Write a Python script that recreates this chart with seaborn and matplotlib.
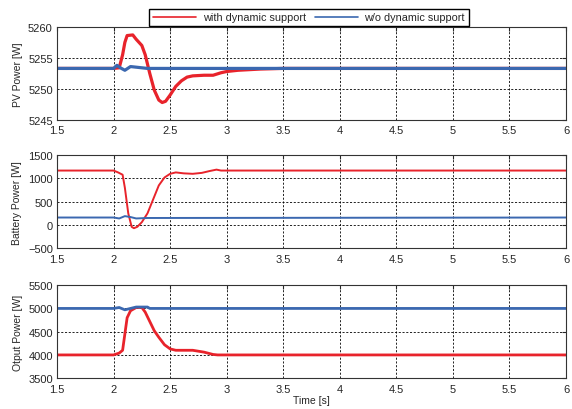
import pandas as pd
import matplotlib
matplotlib.use("Agg")
import matplotlib.pyplot as plt
import seaborn as sns

# PV power [W]
pv_t_dyn = [1.5, 2.0, 2.05, 2.08, 2.1, 2.12, 2.17, 2.2, 2.25, 2.28, 2.32, 2.36, 2.4, 2.43, 2.46, 2.5,
            2.55, 2.6, 2.65, 2.7, 2.8, 2.88, 2.95, 3.0, 3.1, 3.3, 3.5, 6.0]
pv_v_dyn = [5253.3, 5253.3, 5253.4, 5255.5, 5257.5, 5258.6, 5258.7, 5258.0, 5257.0, 5255.5, 5252.5,
            5249.8, 5248.2, 5247.8, 5248.0, 5249.0, 5250.4, 5251.3, 5251.9, 5252.1, 5252.2, 5252.2,
            5252.6, 5252.8, 5253.0, 5253.2, 5253.3, 5253.3]
pv_t_wo = [1.5, 2.0, 2.03, 2.06, 2.1, 2.15, 2.2, 2.3, 6.0]
pv_v_wo = [5253.3, 5253.3, 5253.8, 5253.4, 5253.0, 5253.6, 5253.5, 5253.3, 5253.3]

# Battery power [W]
bat_t_dyn = [1.5, 2.0, 2.04, 2.08, 2.1, 2.13, 2.16, 2.18, 2.21, 2.25, 2.3, 2.35, 2.4, 2.45, 2.5,
             2.55, 2.62, 2.7, 2.78, 2.85, 2.91, 2.95, 6.0]
bat_v_dyn = [1170, 1170, 1130, 1080, 800, 250, -40, -70, -40, 60, 250, 550, 850, 1020, 1100,
             1130, 1110, 1100, 1120, 1160, 1190, 1170, 1170]
bat_t_wo = [1.5, 2.0, 2.05, 2.1, 2.15, 2.2, 2.3, 6.0]
bat_v_wo = [160, 160, 140, 190, 170, 140, 150, 160]

# Output power [W]
out_t_dyn = [1.5, 2.0, 2.05, 2.08, 2.1, 2.12, 2.15, 2.2, 2.25, 2.28, 2.32, 2.36, 2.4, 2.45, 2.5,
             2.55, 2.6, 2.7, 2.8, 2.88, 2.92, 6.0]
out_v_dyn = [4000, 4000, 4040, 4100, 4450, 4800, 4950, 5020, 5020, 4920, 4720, 4520, 4380, 4220,
             4130, 4100, 4100, 4100, 4060, 4010, 4000, 4000]
out_t_wo = [1.5, 2.0, 2.05, 2.1, 2.15, 2.2, 2.3, 2.32, 6.0]
out_v_wo = [5000, 5000, 5020, 4970, 5000, 5030, 5030, 5000, 5000]

labels = ["with dynamic support", "w/o dynamic support"]
RED = "#e8232b"
BLUE = "#3b68b0"

sns.set_style("white")
plt.rcParams["font.family"] = ["Liberation Sans", "DejaVu Sans"]

fig = plt.figure(figsize=(5.72, 4.10), dpi=100)

panels = [
    (pv_t_dyn, pv_v_dyn, pv_t_wo, pv_v_wo, "PV Power [W]", (5245, 5260), [5245, 5250, 5255, 5260], 2.3, 0.932),
    (bat_t_dyn, bat_v_dyn, bat_t_wo, bat_v_wo, "Battery Power [W]", (-500, 1500), [-500, 0, 500, 1000, 1500], 1.4, 0.619),
    (out_t_dyn, out_v_dyn, out_t_wo, out_v_wo, "Otput Power [W]", (3500, 5500), [3500, 4000, 4500, 5000, 5500], 2.0, 0.302),
]

axes = []
for t1, v1, t2, v2, ylab, ylim, yticks, lw, top in panels:
    ax = fig.add_axes([57 / 572, top - 93 / 410, 509 / 572, 93 / 410])
    df = pd.concat([
        pd.DataFrame({"t": t1, "v": v1, "case": labels[0]}),
        pd.DataFrame({"t": t2, "v": v2, "case": labels[1]}),
    ])
    sns.lineplot(data=df, x="t", y="v", hue="case", palette=[RED, BLUE], linewidth=lw,
                 estimator=None, sort=False, ax=ax, legend=False)
    ax.set_xlim(1.5, 6)
    ax.set_ylim(*ylim)
    ax.set_xticks([1.5, 2, 2.5, 3, 3.5, 4, 4.5, 5, 5.5, 6])
    ax.set_xticklabels(["1.5", "2", "2.5", "3", "3.5", "4", "4.5", "5", "5.5", "6"])
    ax.set_yticks(yticks)
    ax.grid(True, color="black", linestyle=(0, (2.5, 2)), linewidth=0.6)
    ax.tick_params(axis="x", direction="in", length=3, labelsize=8, top=True, pad=4)
    ax.tick_params(axis="y", direction="in", length=3, labelsize=8, right=True, pad=3)
    ax.set_ylabel(ylab, fontsize=7.5, labelpad=4)
    ax.set_xlabel("")
    for s in ax.spines.values():
        s.set_color("#333333")
        s.set_linewidth(0.8)
    axes.append(ax)

axes[2].set_xlabel("Time [s]", fontsize=7.5, labelpad=1)

handles = [plt.Line2D([], [], color=RED, linewidth=1.2), plt.Line2D([], [], color=BLUE, linewidth=1.2)]
fig.legend(handles, labels, loc="upper center", bbox_to_anchor=(0.54, 0.99), ncol=2, fontsize=7.8,
           frameon=True, fancybox=False, edgecolor="black", framealpha=1, borderpad=0.35,
           handlelength=4, columnspacing=0.8, handletextpad=0.6)

fig.savefig("out.png", dpi=100)
